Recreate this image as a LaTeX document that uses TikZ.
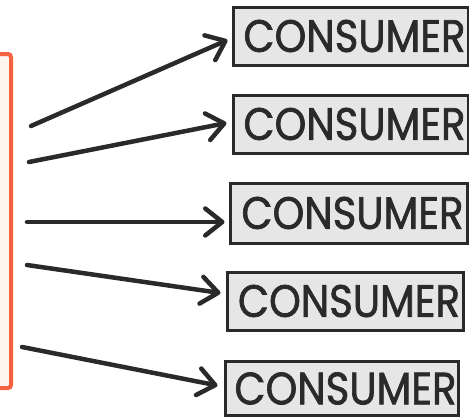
\documentclass[tikz,border=0pt]{standalone}
\usepackage{fontspec}
\setmainfont{Poppins}
\newfontfamily\consumerfont{Poppins}[FakeBold=1.6]
\usetikzlibrary{arrows.meta}
\definecolor{ink}{HTML}{2A2A2A}
\definecolor{boxfill}{HTML}{E6E6E6}
\definecolor{orangeline}{HTML}{F4623F}
\definecolor{orangefill}{HTML}{FDF4EE}
\tikzset{
  consumer/.style={draw=ink, line width=3pt, fill=boxfill, inner sep=0pt,
    minimum height=58pt, text=ink},
  flow/.style={draw=ink, line width=4.5pt, line cap=round,
    -{Straight Barb[length=17pt,width=27pt,line width=4.5pt,round]}},
}
\newcommand{\ctext}{\hspace*{8pt}\resizebox{222pt}{32pt}{\consumerfont CONSUMER}}
\begin{document}
\begin{tikzpicture}[x=1pt,y=-1pt]
\useasboundingbox (0,0) rectangle (469,418);
\node[draw=orangeline, fill=orangefill, line width=4pt, rounded corners=3pt,
  minimum width=60pt, minimum height=334pt, inner sep=0pt] (producer) at (-19,221) {};
\node[consumer, minimum width=235pt] (c1) at (350.5,36) {\ctext};
\node[consumer, minimum width=235pt] (c2) at (350.5,124) {\ctext};
\node[consumer, minimum width=237pt, minimum height=60pt] (c3) at (348.5,213) {\ctext};
\node[consumer, minimum width=236pt] (c4) at (345,301) {\ctext};
\node[consumer, minimum width=233pt, minimum height=54pt] (c5) at (341.5,388.5) {\ctext};
\coordinate (s1) at (31,126);
\coordinate (s2) at (29,162);
\coordinate (s3) at (27,222);
\coordinate (s4) at (27,265);
\coordinate (s5) at (22,347);
\draw[flow] (s1) -- ([xshift=-4pt,yshift=-4pt]c1.west);
\draw[flow] (s2) -- ([xshift=-5pt,yshift=1pt]c2.west);
\draw[flow] (s3) -- ([xshift=-4pt,yshift=-9pt]c3.west);
\draw[flow] (s4) -- ([xshift=-5pt,yshift=8pt]c4.west);
\draw[flow] (s5) -- ([xshift=-6pt,yshift=3pt]c5.west);
\end{tikzpicture}
\end{document}
